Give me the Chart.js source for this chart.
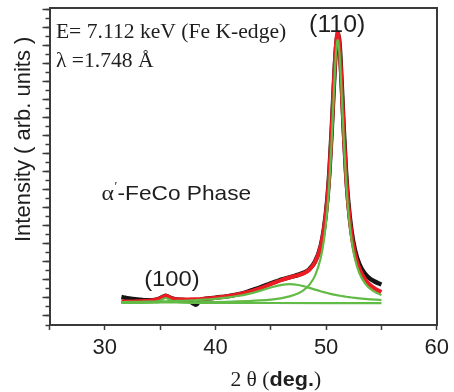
<!DOCTYPE html>
<html>
<head>
<meta charset="utf-8">
<title>alpha'-FeCo XRD</title>
<script src="https://cdn.jsdelivr.net/npm/chart.js"></script>
<style>
  body { margin: 0; background: #fff; }
</style>
</head>
<body>
<canvas id="xrdChart" width="454" height="392"></canvas>
<script>
// measured pattern (2 theta, intensity)
const obsX = [31.5, 31.75, 32, 32.5, 33, 33.5, 34, 34.5, 35, 35.5, 36, 36.5, 37, 37.5, 38, 38.25, 38.5, 39, 39.5,
  40, 40.5, 41, 41.5, 42, 42.5, 43, 43.5, 44, 44.5, 45, 45.5, 46, 46.5, 47, 47.5, 48, 48.5, 49, 49.5,
  49.8, 50.1, 50.3, 50.5, 50.7, 50.85, 51.0, 51.05, 51.1, 51.25, 51.4, 51.6, 51.8, 52.0, 52.3, 52.6,
  53, 53.5, 54, 54.5, 55];
const obsY = [1.55, 1.52, 1.49, 1.45, 1.42, 1.38, 1.37, 1.39, 1.48, 1.62, 1.49, 1.42, 1.40, 1.36, 1.20, 1.12, 1.30, 1.45, 1.48,
  1.52, 1.55, 1.59, 1.64, 1.70, 1.77, 1.87, 1.98, 2.08, 2.20, 2.31, 2.42, 2.53, 2.62, 2.70, 2.79, 2.91, 3.11, 3.52, 4.36,
  5.32, 6.92, 8.55, 10.75, 13.3, 15.0, 16.0, 16.1, 16.1, 15.3, 13.5, 10.8, 8.5, 6.85, 5.2, 4.18,
  3.38, 2.85, 2.55, 2.38, 2.25];

// fitted curves share one 2 theta grid
const fitX = [31.5, 32, 33, 34, 34.5, 35, 35.25, 35.5, 35.75, 36, 36.5, 37, 38, 39, 40, 41, 42, 43, 44, 45, 46, 46.7,
  47.5, 48, 48.5, 49, 49.5, 49.8, 50.1, 50.3, 50.5, 50.7, 50.85, 51.0, 51.05, 51.1, 51.25, 51.4, 51.6, 51.8,
  52.0, 52.3, 52.6, 53, 53.5, 54, 54.5, 55];
const fitTotal = [1.30, 1.305, 1.321, 1.351, 1.386, 1.479, 1.567, 1.628, 1.577, 1.498, 1.426, 1.411, 1.426, 1.463,
  1.517, 1.592, 1.697, 1.841, 2.036, 2.271, 2.507, 2.639, 2.767, 2.880, 3.083, 3.490, 4.347, 5.308, 6.912, 8.542,
  10.745, 13.37, 15.169, 16.179, 16.247, 16.167, 15.122, 13.288, 10.616, 8.366, 6.689, 5.012, 3.978, 3.145,
  2.552, 2.204, 1.982, 1.831];
// (110) component
const fit110 = [1.239, 1.240, 1.242, 1.245, 1.246, 1.248, 1.249, 1.250, 1.251, 1.252, 1.254, 1.256, 1.262, 1.269,
  1.278, 1.291, 1.307, 1.330, 1.363, 1.413, 1.495, 1.589, 1.766, 1.951, 2.243, 2.745, 3.693, 4.705, 6.357, 8.017,
  10.248, 12.90, 14.718, 15.746, 15.82, 15.746, 14.718, 12.90, 10.248, 8.017, 6.357, 4.705, 3.693, 2.887,
  2.322, 1.998, 1.797, 1.665];
// broad shoulder component
const fitBroad = [1.276, 1.279, 1.288, 1.298, 1.304, 1.311, 1.314, 1.318, 1.322, 1.327, 1.336, 1.347, 1.374, 1.408,
  1.455, 1.519, 1.608, 1.731, 1.892, 2.079, 2.232, 2.27, 2.221, 2.149, 2.06, 1.966, 1.874, 1.823, 1.775, 1.745,
  1.717, 1.69, 1.671, 1.653, 1.647, 1.641, 1.624, 1.608, 1.588, 1.569, 1.552, 1.527, 1.505, 1.479, 1.45,
  1.425, 1.404, 1.386];
// (100) component
const smallX = [31.5, 33, 34, 34.5, 35, 35.25, 35.5, 35.75, 36, 36.5, 37, 38, 40, 45, 50, 55];
const fit100 = [1.224, 1.231, 1.248, 1.276, 1.36, 1.444, 1.50, 1.444, 1.36, 1.276, 1.248, 1.231, 1.223, 1.221, 1.22, 1.22];

const xTickLabels = [30, 40, 50, 60];

const RED = '#ec1c24';
const GREEN = '#62bb46';
const AXIS = '#3a3a3a';
const INK = '#1e1e1e';
const SANS = '"Liberation Sans", Arial, sans-serif';
const SERIF = '"Liberation Serif", "Times New Roman", serif';
const STRETCH = 1.08;

function pts(xs, ys) {
  return xs.map((x, i) => ({ x: x, y: ys[i] }));
}

function fixWidth(w) {
  return function (scale) { scale.width = w; };
}

function tickList(start, step, end) {
  const out = [];
  for (let v = start; v <= end + 1e-9; v += step) out.push({ value: +v.toFixed(3) });
  return out;
}

// draws text slightly widened, like the original figure fonts
function put(ctx, str, px, py, font, align) {
  ctx.save();
  ctx.font = font;
  ctx.fillStyle = INK;
  ctx.textAlign = align || 'left';
  ctx.textBaseline = 'alphabetic';
  ctx.translate(px, py);
  ctx.scale(STRETCH, 1);
  ctx.fillText(str, 0, 0);
  ctx.restore();
}

// mixed-font string, centred at px
function putRuns(ctx, runs, px, py) {
  let total = 0;
  runs.forEach(r => { ctx.font = r.font; total += ctx.measureText(r.text).width * STRETCH; });
  let cur = px - total / 2;
  runs.forEach(r => {
    put(ctx, r.text, cur, py, r.font, 'left');
    ctx.font = r.font;
    cur += ctx.measureText(r.text).width * STRETCH;
  });
}

const textPlugin = {
  id: 'xrdText',
  afterDraw(chart) {
    const ctx = chart.ctx;
    const sx = chart.scales.x, sy = chart.scales.y;
    const X = v => sx.getPixelForValue(v);
    const Y = v => sy.getPixelForValue(v);

    put(ctx, 'E= 7.112 keV (Fe K-edge)', X(25.58), Y(15.92), '20px ' + SERIF);
    put(ctx, '\u03bb =1.748 \u00c5', X(25.58), Y(14.31), '20px ' + SERIF);
    put(ctx, '(110)', X(51.0), Y(16.25), '23px ' + SANS, 'center');
    put(ctx, '(100)', X(36.06), Y(2.19), '22px ' + SANS, 'center');

    // alpha-prime phase label
    put(ctx, '\u03b1', X(29.7), Y(6.92), '22px ' + SERIF);
    put(ctx, '\u2032', X(29.7) + 13, Y(6.92) - 10, '12px ' + SERIF);
    put(ctx, '-FeCo Phase', X(29.7) + 16, Y(6.92), '21px ' + SANS);

    // axis titles
    putRuns(ctx, [
      { text: '2 \u03b8 (', font: '20px ' + SERIF },
      { text: 'deg.', font: 'bold 20px ' + SANS },
      { text: ')', font: '20px ' + SERIF }
    ], X(45.45), 386);

    ctx.save();
    ctx.translate(30, Y(10.31));
    ctx.rotate(-Math.PI / 2);
    ctx.font = '22px ' + SANS;
    ctx.fillStyle = INK;
    ctx.textAlign = 'center';
    ctx.textBaseline = 'alphabetic';
    ctx.fillText('Intensity ( arb. units )', 0, 0);
    ctx.restore();
  }
};

const lineStyle = { showLine: true, pointRadius: 0, cubicInterpolationMode: 'monotone', fill: false };

new Chart(document.getElementById('xrdChart'), {
  type: 'scatter',
  data: {
    datasets: [
      Object.assign({ label: '(100) fit', data: pts(smallX, fit100), borderColor: GREEN, borderWidth: 2.2, order: 1 }, lineStyle),
      Object.assign({ label: 'shoulder fit', data: pts(fitX, fitBroad), borderColor: GREEN, borderWidth: 2.2, order: 1 }, lineStyle),
      Object.assign({ label: '(110) fit', data: pts(fitX, fit110), borderColor: GREEN, borderWidth: 2.2, order: 1 }, lineStyle),
      Object.assign({ label: 'total fit', data: pts(fitX, fitTotal), borderColor: RED, borderWidth: 4, order: 2 }, lineStyle),
      Object.assign({ label: 'data', data: pts(obsX, obsY), borderColor: '#151515', borderWidth: 4.5, order: 3 }, lineStyle)
    ]
  },
  options: {
    responsive: false,
    animation: false,
    layout: { padding: 0 },
    plugins: { legend: { display: false }, tooltip: { enabled: false } },
    scales: {
      x: {
        type: 'linear', position: 'bottom', min: 25, max: 60,
        ticks: {
          stepSize: 5, padding: 5, color: INK, font: { family: SANS, size: 22 },
          callback: v => (xTickLabels.includes(v) ? String(v) : '')
        },
        grid: { display: true, drawOnChartArea: false, drawTicks: true, tickLength: 5, tickColor: AXIS, tickWidth: 1.5 },
        border: { display: true, color: AXIS, width: 2 },
        afterFit: s => { s.height = 67; }
      },
      xTop: {
        type: 'linear', position: 'top', min: 25, max: 60,
        ticks: { display: false }, grid: { display: false },
        border: { display: true, color: AXIS, width: 2 },
        afterFit: s => { s.height = 8; }
      },
      y: {
        type: 'linear', position: 'left', min: 0, max: 17.6, weight: 1,
        ticks: { display: false },
        afterBuildTicks: s => { s.ticks = tickList(0.5, 1, 17.5); },
        grid: { display: true, drawOnChartArea: false, drawTicks: true, tickLength: 7, tickColor: AXIS, tickWidth: 1.5 },
        border: { display: true, color: AXIS, width: 2 },
        afterFit: fixWidth(49.5)
      },
      yMinor: {
        type: 'linear', position: 'left', min: 0, max: 17.6, weight: 0,
        ticks: { display: false },
        afterBuildTicks: s => { s.ticks = tickList(0, 0.5, 17.5); },
        grid: { display: true, drawOnChartArea: false, drawTicks: true, tickLength: 4, tickColor: AXIS, tickWidth: 1.5 },
        border: { display: false },
        afterFit: fixWidth(0)
      },
      yRight: {
        type: 'linear', position: 'right', min: 0, max: 17.6,
        ticks: { display: false }, grid: { display: false },
        border: { display: true, color: AXIS, width: 2 },
        afterFit: fixWidth(13)
      }
    }
  },
  plugins: [textPlugin]
});
</script>
</body>
</html>
